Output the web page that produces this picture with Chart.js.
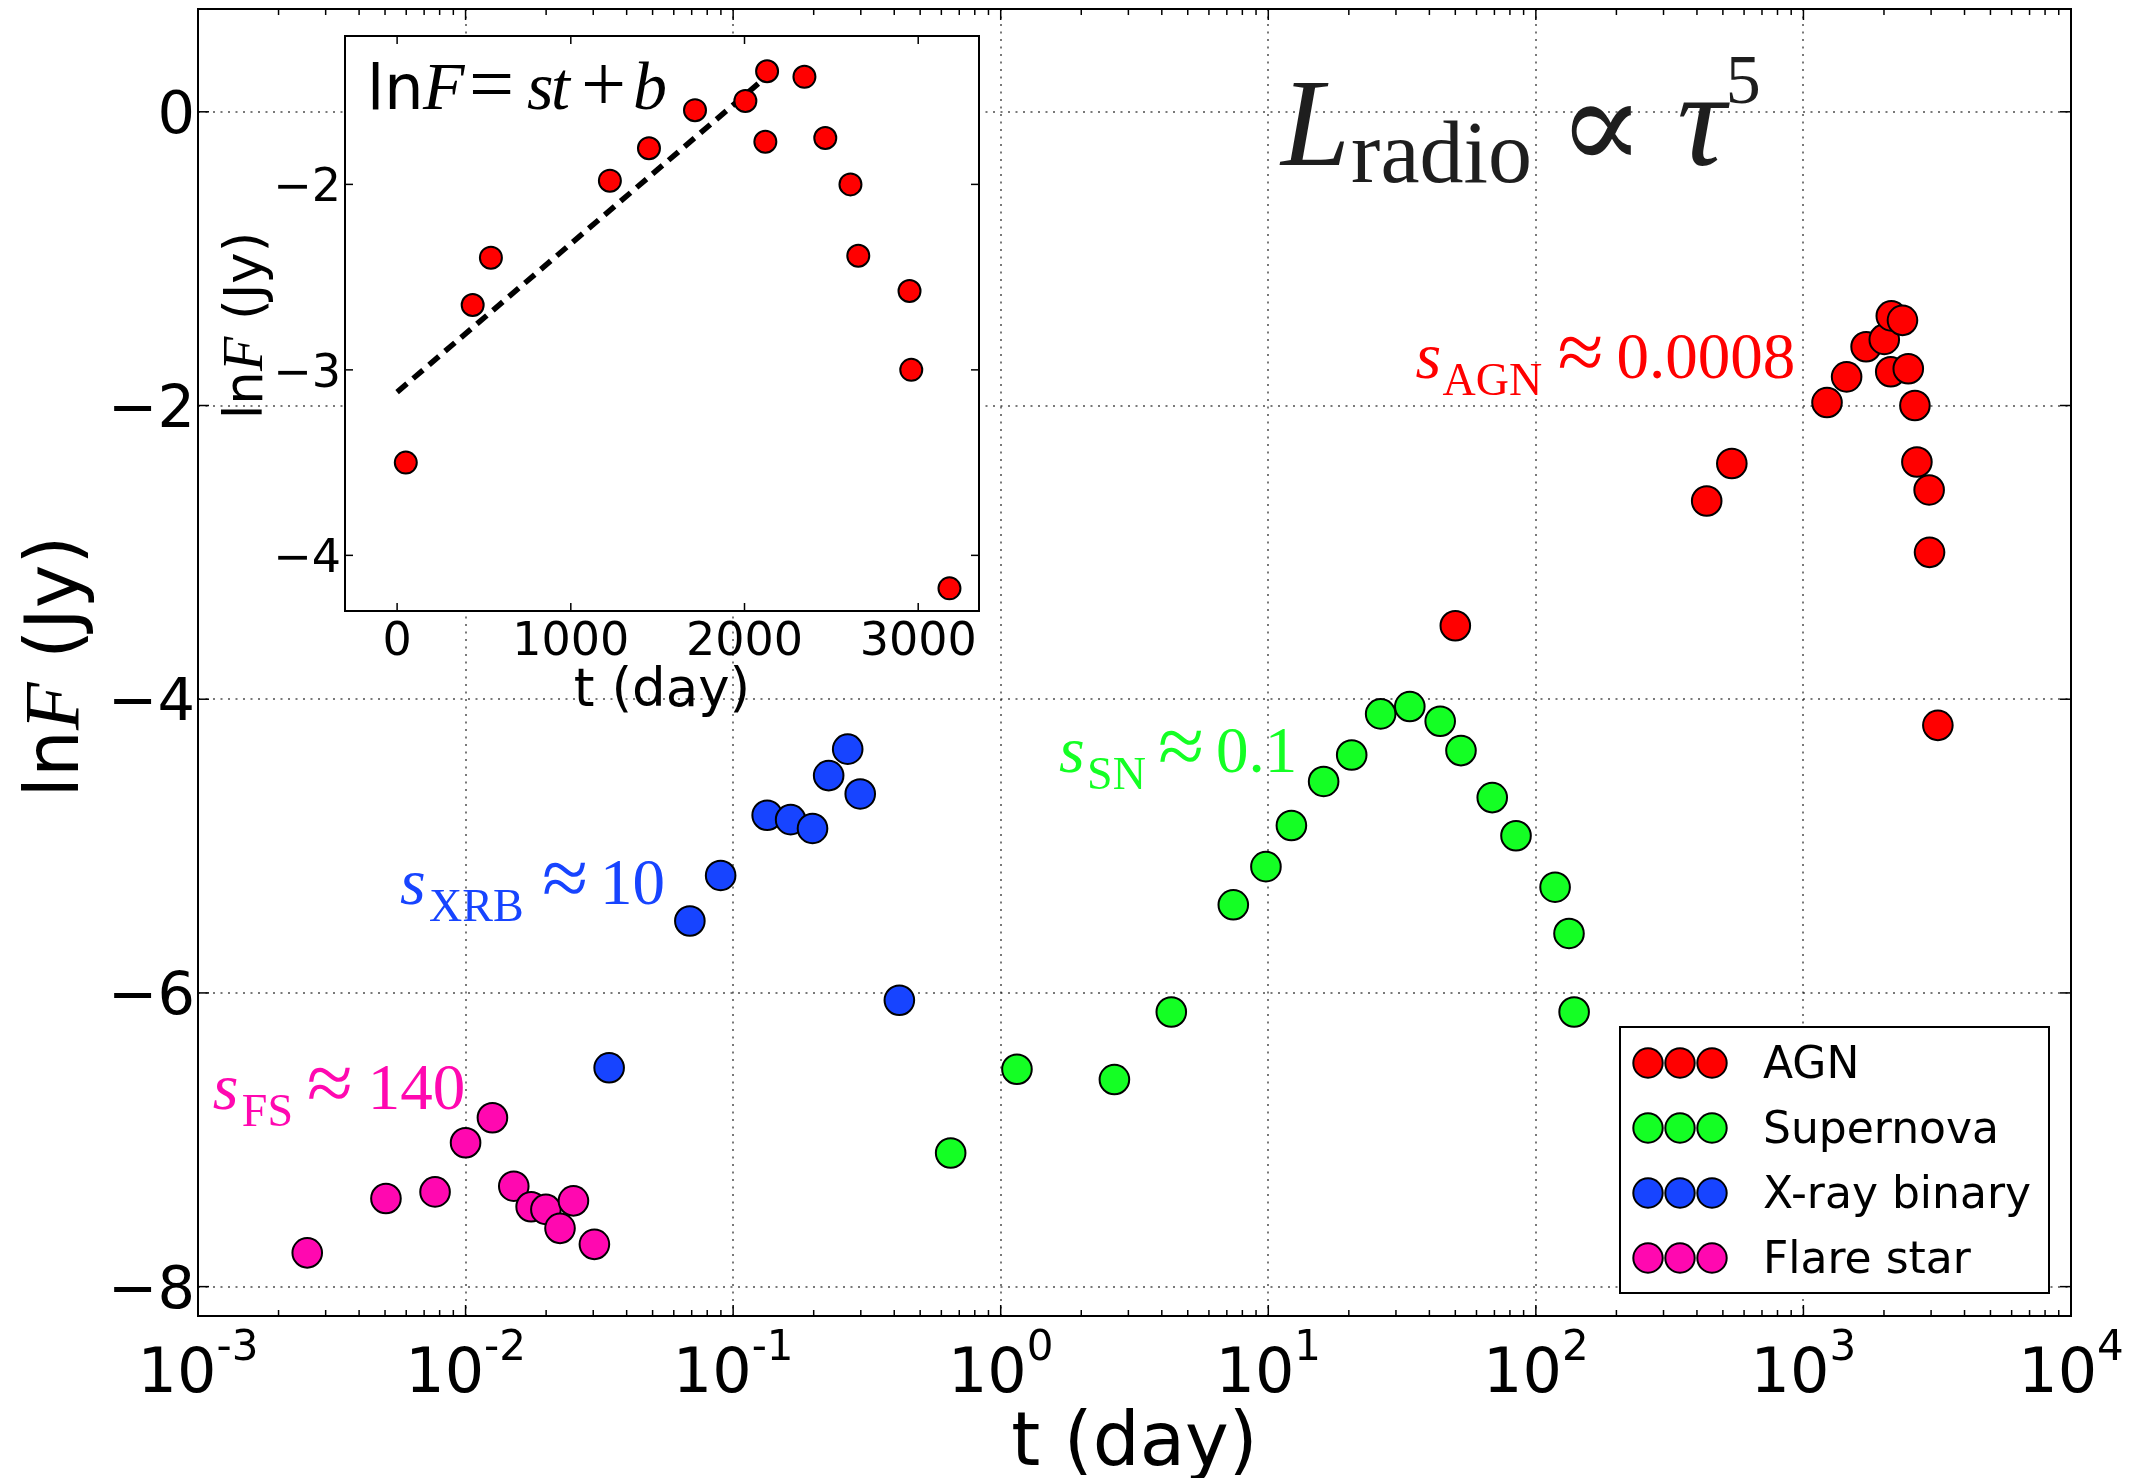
<!DOCTYPE html>
<html lang="en">
<head>
  <meta charset="UTF-8">
  <title>Radio light curves - lnF vs t</title>
  <script src="https://cdn.jsdelivr.net/npm/chart.js"></script>
  <style>
    html, body { margin:0; padding:0; background:#fff; }
    #wrap { position:relative; width:2133px; height:1478px; }
    #mainChart, #insetChart { position:absolute; left:0; top:0; }
  </style>
</head>
<body>
  <div id="wrap">
    <canvas id="mainChart" width="2133" height="1478"></canvas>
    <canvas id="insetChart" width="1000" height="740"></canvas>
  </div>
  <script>
    // values (t in days, lnF in ln Jy)
    const agnT   = [50, 435, 540, 1225, 1450, 1715, 2005, 2130, 2120, 2345, 2465, 2610, 2655, 2950, 2960, 3180];
    const agnLnF = [-3.50, -2.65, -2.395, -1.98, -1.805, -1.60, -1.55, -1.39, -1.77, -1.42, -1.75, -2.00, -2.385, -2.575, -3.00, -4.178];

    const snT   = [0.65, 1.15, 2.66, 4.34, 7.4, 9.8, 12.2, 16.1, 20.5, 26.3, 33.8, 43.9, 52.5, 68.7, 84.3, 118, 133, 139];
    const snLnF = [-7.09, -6.52, -6.59, -6.13, -5.40, -5.14, -4.86, -4.56, -4.38, -4.10, -4.05, -4.15, -4.35, -4.67, -4.93, -5.28, -5.595, -6.13];

    const xrbT   = [0.0344, 0.0689, 0.0898, 0.134, 0.164, 0.198, 0.2275, 0.268, 0.2985, 0.418];
    const xrbLnF = [-6.51, -5.51, -5.20, -4.79, -4.82, -4.88, -4.52, -4.34, -4.645, -6.05];

    const fsT   = [0.00256, 0.00504, 0.00769, 0.0100, 0.0126, 0.01514, 0.01758, 0.01996, 0.02254, 0.0253, 0.0303];
    const fsLnF = [-7.77, -7.40, -7.355, -7.02, -6.85, -7.316, -7.456, -7.474, -7.603, -7.416, -7.712];

    // dashed fit in the inset (lnF = s t + b)
    const fitT   = [0, 2150];
    const fitLnF = [-3.12, -1.40];

    const xDecades    = [-3, -2, -1, 0, 1, 2, 3, 4];
    const yTicks      = [-8, -6, -4, -2, 0];
    const insetXTicks = [0, 1000, 2000, 3000];
    const insetYTicks = [-4, -3, -2];

    const SANS  = '"DejaVu Sans", sans-serif';
    const SERIF = '"Liberation Serif", "DejaVu Serif", serif';

    const series = [
      { label: 'AGN',          t: agnT, f: agnLnF, color: '#ff0000' },
      { label: 'Supernova',    t: snT,  f: snLnF,  color: '#14ff24' },
      { label: 'X-ray binary', t: xrbT, f: xrbLnF, color: '#1744ff' },
      { label: 'Flare star',   t: fsT,  f: fsLnF,  color: '#ff08b0' }
    ];

    const pts = (xs, ys) => xs.map((x, i) => ({ x: x, y: ys[i] }));
    const fmt = v => (v < 0 ? '\u2212' : '') + Math.abs(v);

    function line(ctx, x1, y1, x2, y2) {
      ctx.beginPath(); ctx.moveTo(x1, y1); ctx.lineTo(x2, y2); ctx.stroke();
    }
    function rich(ctx, x, y, pieces) {
      let cx = x;
      pieces.forEach(p => {
        ctx.font = p.font;
        ctx.fillText(p.text, cx, y + (p.dy || 0));
        cx += ctx.measureText(p.text).width;
      });
    }
    function richWidth(ctx, pieces) {
      let w = 0;
      pieces.forEach(p => { ctx.font = p.font; w += ctx.measureText(p.text).width; });
      return w;
    }
    // pieces with fixed offsets from an anchor
    function placed(ctx, x, y, pieces) {
      pieces.forEach(p => { ctx.font = p.font; ctx.fillText(p.text, x + p.dx, y + (p.dy || 0)); });
    }

    // slope labels, anchored in data coordinates
    const notes = [
      { t: 35.5,     f: -1.813, color: '#ff0000', sub: 'AGN', val: '0.0008', dSub: 27, dAp: 142, dVal: 201 },
      { t: 1.653,    f: -4.495, color: '#14ff24', sub: 'SN',  val: '0.1',    dSub: 28, dAp: 99,  dVal: 157 },
      { t: 0.00569,  f: -5.394, color: '#1744ff', sub: 'XRB', val: '10',     dSub: 29, dAp: 142, dVal: 200 },
      { t: 0.001136, f: -6.788, color: '#ff08b0', sub: 'FS',  val: '140',    dSub: 29, dAp: 94,  dVal: 155 }
    ];

    const mainDecor = {
      id: 'mainDecor',
      beforeDraw(chart) {
        const ctx = chart.ctx;
        ctx.save(); ctx.fillStyle = '#fff'; ctx.fillRect(0, 0, chart.width, chart.height); ctx.restore();
      },
      beforeDatasetsDraw(chart) {
        const { ctx, chartArea: a, scales: { x, y } } = chart;
        ctx.save();
        ctx.strokeStyle = 'rgba(0,0,0,0.7)';
        ctx.lineWidth = 1.5;
        ctx.setLineDash([2, 5.5]);
        xDecades.forEach(k => {
          const px = Math.round(x.getPixelForValue(Math.pow(10, k)));
          line(ctx, px, a.top, px, a.bottom);
        });
        yTicks.forEach(v => {
          const py = Math.round(y.getPixelForValue(v));
          line(ctx, a.left, py, a.right, py);
        });
        ctx.restore();
      },
      afterDatasetsDraw(chart) {
        const { ctx, chartArea: a, scales: { x, y } } = chart;
        ctx.save();
        ctx.strokeStyle = '#000';
        ctx.lineWidth = 2;
        ctx.setLineDash([]);
        ctx.strokeRect(a.left, a.top, a.right - a.left, a.bottom - a.top);

        // inward ticks
        ctx.lineWidth = 1.5;
        xDecades.forEach(k => {
          const px = x.getPixelForValue(Math.pow(10, k));
          line(ctx, px, a.bottom, px, a.bottom - 11);
          line(ctx, px, a.top, px, a.top + 11);
          if (k < 4) {
            for (let m = 2; m <= 9; m++) {
              const pm = x.getPixelForValue(m * Math.pow(10, k));
              line(ctx, pm, a.bottom, pm, a.bottom - 6);
              line(ctx, pm, a.top, pm, a.top + 6);
            }
          }
        });
        yTicks.forEach(v => {
          const py = y.getPixelForValue(v);
          line(ctx, a.left, py, a.left + 11, py);
          line(ctx, a.right, py, a.right - 11, py);
        });

        // tick labels
        ctx.fillStyle = '#000';
        ctx.textBaseline = 'alphabetic';
        ctx.textAlign = 'left';
        xDecades.forEach(k => {
          const px = x.getPixelForValue(Math.pow(10, k));
          const base = '10', exp = (k < 0 ? '-' : '') + Math.abs(k);
          ctx.font = '62px ' + SANS; const wb = ctx.measureText(base).width;
          ctx.font = '42px ' + SANS; const we = ctx.measureText(exp).width;
          const x0 = px - (wb + we) / 2;
          ctx.font = '62px ' + SANS; ctx.fillText(base, x0, a.bottom + 76);
          ctx.font = '42px ' + SANS; ctx.fillText(exp, x0 + wb, a.bottom + 44);
        });
        ctx.textAlign = 'right';
        ctx.font = '59px ' + SANS;
        yTicks.forEach(v => {
          ctx.fillText(fmt(v), a.left - 3, y.getPixelForValue(v) + 21);
        });

        // axis titles
        ctx.textAlign = 'center';
        ctx.font = '74px ' + SANS;
        ctx.fillText('t (day)', (a.left + a.right) / 2, a.bottom + 149);

        ctx.textAlign = 'left';
        const yt = [
          { text: 'ln', font: '74px ' + SANS },
          { text: 'F', font: 'italic 78px ' + SERIF },
          { text: ' (Jy)', font: '74px ' + SANS }
        ];
        ctx.save();
        ctx.translate(78, (a.top + a.bottom) / 2 + 4);
        ctx.rotate(-Math.PI / 2);
        rich(ctx, -richWidth(ctx, yt) / 2, 0, yt);
        ctx.restore();

        // big label L_radio ∝ τ^5
        ctx.fillStyle = '#1e1e1e';
        const tx = x.getPixelForValue(11.36), ty = y.getPixelForValue(-0.362);
        ctx.font = 'italic 136px ' + SERIF;
        const tauW = ctx.measureText('\u03C4').width;
        placed(ctx, tx, ty, [
          { text: 'L',      font: 'italic 124px ' + SERIF, dx: -2 },
          { text: 'radio',  font: '88px ' + SERIF,         dx: 68,  dy: 17 },
          { text: '\u221D', font: '128px ' + SERIF,        dx: 275, dy: 4 },
          { text: '\u03C4', font: 'italic 136px ' + SERIF, dx: 394 },
          { text: '5',      font: '70px ' + SERIF,         dx: 394 + tauW, dy: -62 }
        ]);

        // slope labels
        notes.forEach(n => {
          ctx.fillStyle = n.color;
          placed(ctx, x.getPixelForValue(n.t), y.getPixelForValue(n.f), [
            { text: 's',      font: 'italic 66px ' + SERIF, dx: 0 },
            { text: n.sub,    font: '46px ' + SERIF,        dx: n.dSub, dy: 17 },
            { text: '\u2248', font: '84px ' + SERIF,        dx: n.dAp, dy: 2 },
            { text: n.val,    font: '65px ' + SERIF,        dx: n.dVal }
          ]);
        });

        // legend: three markers per entry
        const lg = { w: 429, h: 266, right: 22, bottom: 23, row0: 36, rowGap: 65, dots: [28, 60, 92], textX: 143 };
        const bx = a.right - lg.right - lg.w, by = a.bottom - lg.bottom - lg.h;
        ctx.fillStyle = '#fff';
        ctx.fillRect(bx, by, lg.w, lg.h);
        ctx.lineWidth = 2;
        ctx.strokeStyle = '#000';
        ctx.strokeRect(bx, by, lg.w, lg.h);
        chart.data.datasets.forEach((ds, i) => {
          const cy = by + lg.row0 + i * lg.rowGap;
          lg.dots.forEach(dx => {
            ctx.beginPath();
            ctx.arc(bx + dx, cy, 14.7, 0, Math.PI * 2);
            ctx.fillStyle = ds.backgroundColor;
            ctx.fill();
            ctx.stroke();
          });
          ctx.fillStyle = '#000';
          ctx.font = '44px ' + SANS;
          ctx.textAlign = 'left';
          ctx.fillText(ds.label, bx + lg.textX, cy + 15);
        });
        ctx.restore();
      }
    };

    new Chart(document.getElementById('mainChart'), {
      type: 'scatter',
      data: {
        datasets: series.map(s => ({
          label: s.label,
          data: pts(s.t, s.f),
          backgroundColor: s.color,
          borderColor: '#000',
          borderWidth: 2,
          pointRadius: 14.8,
          pointHoverRadius: 14.8
        }))
      },
      options: {
        responsive: false,
        animation: false,
        devicePixelRatio: 1,
        events: [],
        layout: { autoPadding: false, padding: { left: 0, top: 9, right: 62, bottom: 0 } },
        plugins: { legend: { display: false }, tooltip: { enabled: false } },
        scales: {
          x: {
            type: 'logarithmic', min: 1e-3, max: 1e4,
            ticks: { display: false },
            grid: { display: false, drawTicks: false },
            border: { display: false },
            afterFit(s) { s.height = 162; }
          },
          y: {
            type: 'linear', min: -8.2, max: 0.7,
            ticks: { display: false },
            grid: { display: false, drawTicks: false },
            border: { display: false },
            afterFit(s) { s.width = 198; }
          }
        }
      },
      plugins: [mainDecor]
    });

    // ---- inset: AGN on a linear time axis ----
    const insetDecor = {
      id: 'insetDecor',
      beforeDraw(chart) {
        const { ctx, chartArea: a } = chart;
        ctx.save(); ctx.fillStyle = '#fff';
        ctx.fillRect(a.left, a.top, a.right - a.left, a.bottom - a.top);
        ctx.restore();
      },
      afterDatasetsDraw(chart) {
        const { ctx, chartArea: a, scales: { x, y } } = chart;
        ctx.save();
        ctx.strokeStyle = '#000';
        ctx.lineWidth = 2;
        ctx.strokeRect(a.left, a.top, a.right - a.left, a.bottom - a.top);
        ctx.lineWidth = 1.5;
        insetXTicks.forEach(v => {
          const px = x.getPixelForValue(v);
          line(ctx, px, a.bottom, px, a.bottom - 8);
          line(ctx, px, a.top, px, a.top + 8);
        });
        insetYTicks.forEach(v => {
          const py = y.getPixelForValue(v);
          line(ctx, a.left, py, a.left + 8, py);
          line(ctx, a.right, py, a.right - 8, py);
        });

        ctx.fillStyle = '#000';
        ctx.font = '46px ' + SANS;
        ctx.textAlign = 'center';
        insetXTicks.forEach(v => ctx.fillText(String(v), x.getPixelForValue(v), a.bottom + 44));
        ctx.textAlign = 'right';
        insetYTicks.forEach(v => ctx.fillText(fmt(v), a.left - 4, y.getPixelForValue(v) + 17));

        ctx.textAlign = 'center';
        ctx.font = '53px ' + SANS;
        ctx.fillText('t (day)', (a.left + a.right) / 2, a.bottom + 95);

        ctx.textAlign = 'left';
        const yt = [
          { text: 'ln', font: '53px ' + SANS },
          { text: 'F', font: 'italic 56px ' + SERIF },
          { text: ' (Jy)', font: '53px ' + SANS }
        ];
        ctx.save();
        ctx.translate(262, (a.top + a.bottom) / 2 + 2);
        ctx.rotate(-Math.PI / 2);
        rich(ctx, -richWidth(ctx, yt) / 2, 0, yt);
        ctx.restore();

        // formula
        placed(ctx, a.left + 22, a.top + 73, [
          { text: 'ln', font: '62px ' + SANS,          dx: 0 },
          { text: 'F',  font: 'italic 68px ' + SERIF,  dx: 56 },
          { text: '=',  font: '80px ' + SERIF,         dx: 102, dy: 2 },
          { text: 's',  font: 'italic 68px ' + SERIF,  dx: 160 },
          { text: 't',  font: 'italic 68px ' + SERIF,  dx: 184 },
          { text: '+',  font: '80px ' + SERIF,         dx: 214, dy: 2 },
          { text: 'b',  font: 'italic 68px ' + SERIF,  dx: 266 }
        ]);
        ctx.restore();
      }
    };

    new Chart(document.getElementById('insetChart'), {
      type: 'scatter',
      data: {
        datasets: [
          {
            label: 'AGN',
            data: pts(agnT, agnLnF),
            backgroundColor: '#ff0000',
            borderColor: '#000',
            borderWidth: 2,
            pointRadius: 11,
            pointHoverRadius: 11,
            order: 1
          },
          {
            type: 'line',
            label: 'fit',
            data: pts(fitT, fitLnF),
            showLine: true,
            borderColor: '#000',
            borderWidth: 5.5,
            borderDash: [13, 8],
            pointRadius: 0,
            fill: false,
            order: 2
          }
        ]
      },
      options: {
        responsive: false,
        animation: false,
        devicePixelRatio: 1,
        events: [],
        layout: { autoPadding: false, padding: { left: 0, top: 36, right: 21, bottom: 0 } },
        plugins: { legend: { display: false }, tooltip: { enabled: false } },
        scales: {
          x: {
            type: 'linear', min: -300, max: 3350,
            ticks: { display: false },
            grid: { display: false, drawTicks: false },
            border: { display: false },
            afterFit(s) { s.height = 129; }
          },
          y: {
            type: 'linear', min: -4.3, max: -1.2,
            ticks: { display: false },
            grid: { display: false, drawTicks: false },
            border: { display: false },
            afterFit(s) { s.width = 345; }
          }
        }
      },
      plugins: [insetDecor]
    });
  </script>
</body>
</html>
